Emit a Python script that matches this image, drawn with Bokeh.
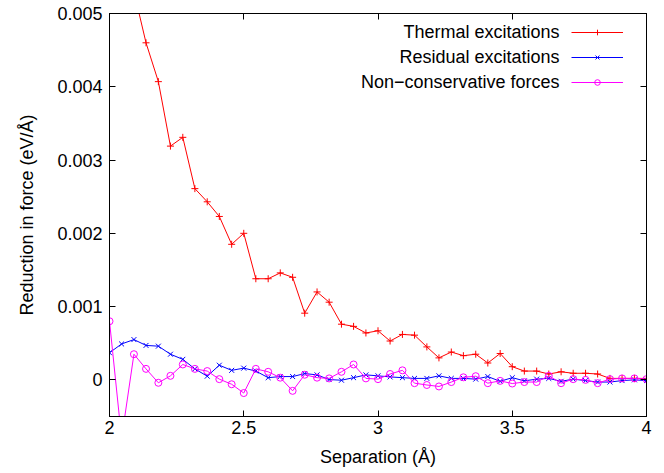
from bokeh.plotting import figure
from bokeh.models import Range1d, LinearAxis, FixedTicker, Legend, LegendItem, Label
from bokeh.embed import file_html
from bokeh.resources import INLINE

# ---- data ----
separation = [2.000, 2.045, 2.091, 2.136, 2.182, 2.227, 2.273, 2.318, 2.364, 2.409,
              2.455, 2.500, 2.545, 2.591, 2.636, 2.682, 2.727, 2.773, 2.818, 2.864,
              2.909, 2.955, 3.000, 3.045, 3.091, 3.136, 3.182, 3.227, 3.273, 3.318,
              3.364, 3.409, 3.455, 3.500, 3.545, 3.591, 3.636, 3.682, 3.727, 3.773,
              3.818, 3.864, 3.909, 3.955, 4.000]

thermal = [0.00680, 0.00600, 0.00530, 0.00460, 0.00407, 0.00319, 0.00331, 0.00261, 0.00243, 0.00223,
           0.00185, 0.00200, 0.00138, 0.00138, 0.00146, 0.00140, 0.00091, 0.00120, 0.00106, 0.00076,
           0.00073, 0.00064, 0.00067, 0.00053, 0.00062, 0.00061, 0.00045, 0.00030, 0.00038, 0.00033,
           0.00035, 0.00023, 0.00036, 0.00018, 0.00012, 0.00012, 0.00008, 0.00011, 0.00009, 0.00009,
           0.00008, 0.00002, 0.00002, 0.00002, 0.00002]

residual = [0.00037, 0.00049, 0.00055, 0.00047, 0.00046, 0.00035, 0.00028, 0.00015, 0.00005, 0.00020,
            0.00013, 0.00016, 0.00012, 0.00003, 0.000045, 0.000045, 0.000086, 0.000068, 0.000004, -0.000005,
            0.00003, 0.000068, 0.000055, 0.00004, 0.00003, 0.00002, 0.00002, 0.000055, 0.00002, 0.00002,
            0.00001, 0.000045, -0.00002, 0.00003, -0.000014, 0.00001, 0.00002, -0.00002, 0.00001, -0.00001,
            -0.00003, -0.00003, -0.00001, 0.0, -0.00001]

nonconservative = [0.00080, -0.00080, 0.00035, 0.00015, -0.00004, 0.000055, 0.00021, 0.00015, 0.00012, 0.00001,
                   -0.00006, -0.00018, 0.00015, 0.00011, 0.00003, -0.00015, 0.00007, 0.00003, 0.00002, 0.00011,
                   0.00021, 0.00002, 0.00001, 0.00008, 0.00013, -0.000045, -0.00007, -0.00009, -0.00003, 0.000035,
                   0.00005, -0.000045, -0.000014, -0.00005, -0.00003, -0.00003, 0.000055, -0.000045, 0.00001, 0.0,
                   -0.000045, 0.00001, 0.00002, 0.00002, 0.00001]

series_names = ["Thermal excitations", "Residual excitations", "Non\u2212conservative forces"]
series_colors = ["#ff0000", "#0000ff", "#ff00ff"]

x_ticks = [2, 2.5, 3, 3.5, 4]
x_tick_labels = ["2", "2.5", "3", "3.5", "4"]
y_ticks = [0, 0.001, 0.002, 0.003, 0.004, 0.005]
y_tick_labels = ["0", "0.001", "0.002", "0.003", "0.004", "0.005"]

FONT = "Liberation Sans"
FS = "18px"

p = figure(width=656, height=471,
           x_range=Range1d(2, 4), y_range=Range1d(-0.0005, 0.005),
           output_backend="svg", toolbar_location=None,
           min_border_left=109, min_border_right=10,
           min_border_top=13, min_border_bottom=55)
p.xgrid.visible = False
p.ygrid.visible = False
p.outline_line_color = "black"
p.outline_line_width = 1
p.background_fill_color = "white"
p.border_fill_color = "white"

def style_axis(ax, ticks, labels, show_labels=True):
    ax.ticker = FixedTicker(ticks=ticks)
    ax.major_label_overrides = {t: l for t, l in zip(ticks, labels)}
    ax.major_tick_in = 6
    ax.major_tick_out = 0
    ax.minor_tick_line_color = None
    ax.axis_line_color = "black"
    ax.major_tick_line_color = "black"
    ax.major_label_text_font = FONT
    ax.major_label_text_color = "black"
    if show_labels:
        ax.major_label_text_font_size = FS
    else:
        ax.major_label_text_font_size = "0px"
        ax.major_label_text_color = None
        ax.major_label_standoff = 0

xa = p.xaxis[0]
ya = p.yaxis[0]
style_axis(xa, x_ticks, x_tick_labels)
style_axis(ya, y_ticks, y_tick_labels)
xa.major_label_standoff = 4
ya.major_label_standoff = 7
xa.axis_label = "Separation (\u00c5)"
ya.axis_label = "Reduction in force (eV/\u00c5)"
for ax in (xa, ya):
    ax.axis_label_text_font = FONT
    ax.axis_label_text_font_size = FS
    ax.axis_label_text_font_style = "normal"
    ax.axis_label_text_color = "black"
xa.axis_label_standoff = 10
ya.axis_label_standoff = 17

top_ax = LinearAxis()
style_axis(top_ax, x_ticks, x_tick_labels, show_labels=False)
p.add_layout(top_ax, "above")
right_ax = LinearAxis()
style_axis(right_ax, y_ticks, y_tick_labels, show_labels=False)
p.add_layout(right_ax, "right")

all_series = [thermal, residual, nonconservative]
markers = ["cross", "x", "circle"]
items = []
for name, ys, color, mk in zip(series_names, all_series, series_colors, markers):
    r_line = p.line(separation, ys, line_color=color, line_width=1)
    r_pts = p.scatter(separation, ys, marker=mk, size=7,
                      line_color=color, fill_color=None, line_width=1)
    items.append(LegendItem(label=" ", renderers=[r_line, r_pts]))

legend = Legend(items=items, location=(462, 322), orientation="vertical",
                glyph_width=52, glyph_height=14, label_height=24, label_width=0,
                label_standoff=0, spacing=1, padding=0, margin=0,
                border_line_color=None, background_fill_alpha=0,
                label_text_font_size="1px")
p.add_layout(legend)

row_y = [385, 360, 335]
for name, yy in zip(series_names, row_y):
    p.add_layout(Label(x=450, y=yy, x_units="screen", y_units="screen", text=name,
                       text_align="right", text_baseline="middle",
                       text_font=FONT, text_font_size=FS, text_color="black"))

open("out.html", "w").write(file_html(p, INLINE))
